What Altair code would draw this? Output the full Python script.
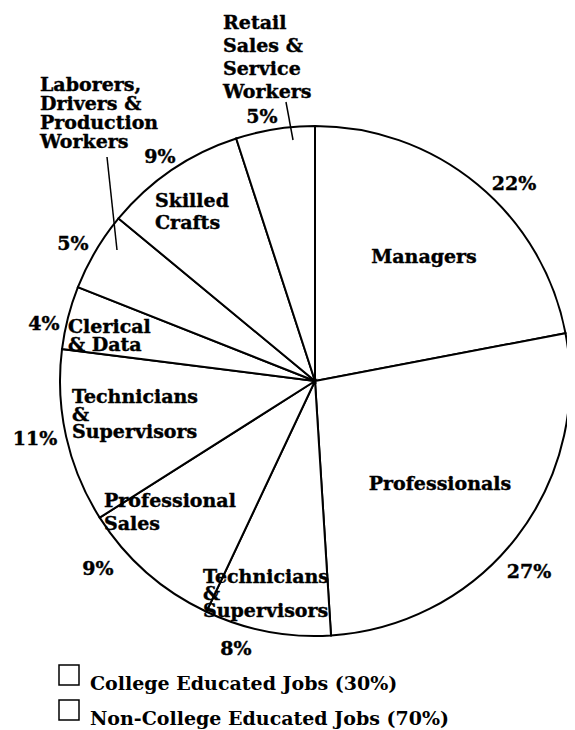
import altair as alt
import pandas as pd

# ---------------- data ----------------
categories = [
    "Managers",
    "Professionals",
    "Technicians & Supervisors (college)",
    "Professional Sales",
    "Technicians & Supervisors",
    "Clerical & Data",
    "Laborers, Drivers & Production Workers",
    "Skilled Crafts",
    "Retail Sales & Service Workers",
]
shares = [22, 27, 8, 9, 11, 4, 5, 9, 5]
groups = [
    "College Educated Jobs (30%)",
    "College Educated Jobs (30%)",
    "College Educated Jobs (30%)",
    "Non-College Educated Jobs (70%)",
    "Non-College Educated Jobs (70%)",
    "Non-College Educated Jobs (70%)",
    "Non-College Educated Jobs (70%)",
    "Non-College Educated Jobs (70%)",
    "Non-College Educated Jobs (70%)",
]
name_lines = [
    ["Managers"],
    ["Professionals"],
    ["Technicians", "&", "Supervisors"],
    ["Professional", "Sales"],
    ["Technicians", "&", "Supervisors"],
    ["Clerical", "& Data"],
    ["Laborers,", "Drivers &", "Production", "Workers"],
    ["Skilled", "Crafts"],
    ["Retail", "Sales &", "Service", "Workers"],
]
legend_labels = ["College Educated Jobs (30%)", "Non-College Educated Jobs (70%)"]

# ---------------- layout (pixels, relative to pie centre) ----------------
CX, CY, R = 307, 373, 255
FONT = "DejaVu Serif"
FS = 19
# (dx, dy of first baseline, align, line height)
name_layout = [
    (109, -118, "center", 0),
    (125, 109, "center", 0),
    (-112, 202, "left", 17),
    (-211, 126, "left", 23),
    (-243, 22, "left", 17.5),
    (-247, -48, "left", 18),
    (-275, -290, "left", 19),
    (-160, -174, "left", 22),
    (-92, -352, "left", 23),
]
pct_layout = [(199, -191), (214, 197), (-79, 274), (-217, 194), (-280, 64),
              (-271, -51), (-242, -131), (-155, -218), (-53, -258)]
leader_layout = [(-29, -279, -22, -241), (-208, -224, -198, -131)]

# ---------------- tables ----------------
slices = pd.DataFrame({
    "idx": list(range(len(categories))),
    "category": categories,
    "share": shares,
    "group": groups,
})

name_rows = []
for i, lines in enumerate(name_lines):
    dx, dy, al, lh = name_layout[i]
    for j, ln in enumerate(lines):
        name_rows.append({"px": CX + dx, "py": CY + dy + j * lh, "t": ln, "align": al})
names = pd.DataFrame(name_rows)

pcts = pd.DataFrame({
    "px": [CX + d[0] for d in pct_layout],
    "py": [CY + d[1] for d in pct_layout],
    "t": [f"{s}%" for s in shares],
})

leaders = pd.DataFrame({
    "x1": [CX + l[0] for l in leader_layout],
    "y1": [CY + l[1] for l in leader_layout],
    "x2": [CX + l[2] for l in leader_layout],
    "y2": [CY + l[3] for l in leader_layout],
})

# ---------------- chart ----------------
pie = alt.Chart(slices).mark_arc(
    outerRadius=R, stroke="black", strokeWidth=2
).encode(
    theta=alt.Theta("share:Q", stack=True),
    order=alt.Order("idx:Q"),
    color=alt.Color(
        "group:N",
        scale=alt.Scale(domain=legend_labels, range=["white", "white"]),
        legend=alt.Legend(
            title=None,
            orient="none",
            legendX=50,
            legendY=656,
            direction="vertical",
            symbolType="square",
            symbolSize=400,
            symbolStrokeColor="black",
            symbolStrokeWidth=1.5,
            symbolFillColor="white",
            labelFont=FONT,
            labelFontSize=FS,
            labelFontWeight="bold",
            labelColor="black",
            labelBaseline="top",
            labelOffset=10,
            labelLimit=600,
            rowPadding=3,
            padding=0,
        ),
    ),
    x=alt.value(CX),
    y=alt.value(CY),
)

text_style = dict(font=FONT, fontSize=FS, fontWeight="bold", color="black",
                  baseline="alphabetic", stroke="black", strokeWidth=0.4)

names_center = alt.Chart(names[names["align"] == "center"]).mark_text(
    align="center", **text_style
).encode(
    x=alt.X("px:Q", scale=None, axis=None),
    y=alt.Y("py:Q", scale=None, axis=None),
    text="t:N",
)
names_left = alt.Chart(names[names["align"] == "left"]).mark_text(
    align="left", **text_style
).encode(
    x=alt.X("px:Q", scale=None, axis=None),
    y=alt.Y("py:Q", scale=None, axis=None),
    text="t:N",
)
pct_text = alt.Chart(pcts).mark_text(align="center", **text_style).encode(
    x=alt.X("px:Q", scale=None, axis=None),
    y=alt.Y("py:Q", scale=None, axis=None),
    text="t:N",
)
leader_rules = alt.Chart(leaders).mark_rule(color="black", strokeWidth=1.5).encode(
    x=alt.X("x1:Q", scale=None, axis=None),
    y=alt.Y("y1:Q", scale=None, axis=None),
    x2="x2:Q",
    y2="y2:Q",
)

chart = alt.layer(pie, leader_rules, names_center, names_left, pct_text).properties(
    width=559,
    height=722,
    padding=0,
    autosize=alt.AutoSizeParams(type="none"),
    background="white",
).configure_view(stroke=None)

chart.save("out.html", embed_options={"renderer": "svg", "actions": False})
